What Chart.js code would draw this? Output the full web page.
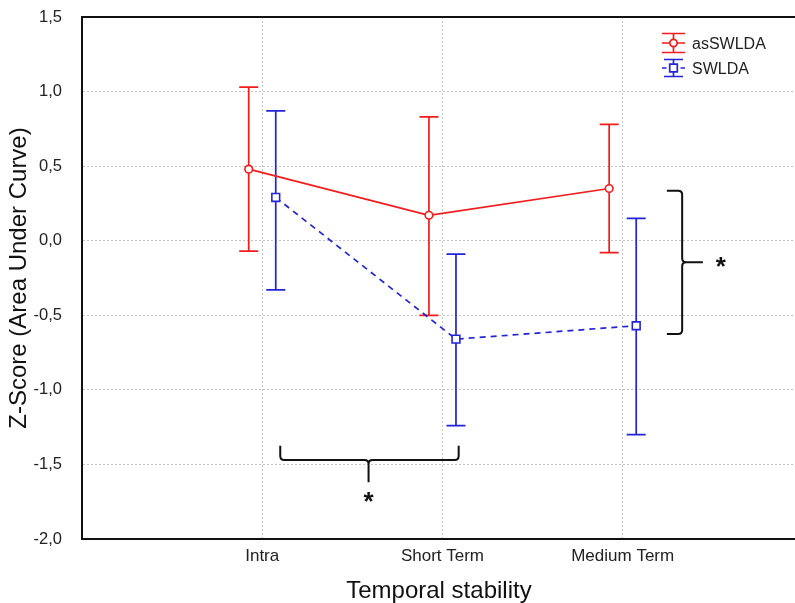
<!DOCTYPE html>
<html><head><meta charset="utf-8">
<script src="https://cdn.jsdelivr.net/npm/chart.js@4"></script>
<style>html,body{margin:0;padding:0;background:#fff;overflow:hidden}#wrap{width:795px;height:603px;position:relative;overflow:hidden}</style>
</head><body><div id="wrap"><canvas id="c" width="803" height="603"></canvas></div>
<script>
// ---- data ----
const categories = ['Intra', 'Short Term', 'Medium Term'];
const seriesNames = ['asSWLDA', 'SWLDA'];
const asMean = [0.48, 0.17, 0.35];
const asLow  = [-0.07, -0.50, -0.08];
const asHigh = [1.03, 0.83, 0.78];
const swMean = [0.29, -0.66, -0.57];
const swLow  = [-0.33, -1.24, -1.30];
const swHigh = [0.87, -0.09, 0.15];
const yTicks = [-2.0, -1.5, -1.0, -0.5, 0.0, 0.5, 1.0, 1.5];

// ---- styling / layout ----
const RED = '#f21c1c', BLUE = '#2323d8';
const FONT = "'Liberation Sans', Arial, sans-serif";
const OFF = 0.075; // horizontal dodge of the two series around each category
const build = (m, lo, hi, d) => m.map((v, i) => ({x: i + 1 + d, y: v, lo: lo[i], hi: hi[i]}));
const noPad = s => { s.paddingTop = 0; s.paddingBottom = 0; s.paddingLeft = 0; s.paddingRight = 0; };

const errorBars = {
  id: 'errorBars',
  beforeDatasetsDraw(chart) {
    const {ctx, scales: {x, y}} = chart;
    chart.data.datasets.forEach(ds => {
      ctx.save();
      ctx.strokeStyle = ds.borderColor; ctx.lineWidth = 1.7; ctx.setLineDash([]);
      ds.data.forEach(p => {
        const px = x.getPixelForValue(p.x), pl = y.getPixelForValue(p.lo), ph = y.getPixelForValue(p.hi);
        ctx.beginPath();
        ctx.moveTo(px, pl); ctx.lineTo(px, ph);
        ctx.moveTo(px - 9.5, pl); ctx.lineTo(px + 9.5, pl);
        ctx.moveTo(px - 9.5, ph); ctx.lineTo(px + 9.5, ph);
        ctx.stroke();
      });
      ctx.restore();
    });
  }
};

function star(ctx, cx, cy) {
  ctx.save();
  ctx.font = "bold 26px " + FONT; ctx.fillStyle = '#111';
  ctx.textAlign = 'center'; ctx.textBaseline = 'alphabetic';
  const m = ctx.measureText('*');
  const a = m.actualBoundingBoxAscent, d = m.actualBoundingBoxDescent;
  ctx.fillText('*', cx, cy + (a - d) / 2);
  ctx.restore();
}

const extras = {
  id: 'extras',
  afterDatasetsDraw(chart) {
    const {ctx, chartArea: ca, scales: {x, y}} = chart;
    ctx.save();
    // top frame line
    ctx.strokeStyle = '#111'; ctx.lineWidth = 2;
    ctx.beginPath(); ctx.moveTo(ca.left - 1, ca.top); ctx.lineTo(ca.right, ca.top); ctx.stroke();

    // horizontal bracket (Intra vs Short Term, SWLDA)
    const X = v => x.getPixelForValue(v), Y = v => y.getPixelForValue(v);
    ctx.lineWidth = 2; ctx.strokeStyle = '#111'; ctx.lineJoin = 'round';
    let xl = X(1.10), xr = X(2.09), xm = X(1.59), yb = Y(-1.47), yt = Y(-1.375), yd = Y(-1.62), r = 4;
    ctx.beginPath();
    ctx.moveTo(xl, yt); ctx.lineTo(xl, yb - r); ctx.quadraticCurveTo(xl, yb, xl + r, yb);
    ctx.lineTo(xm - r, yb); ctx.quadraticCurveTo(xm, yb, xm, yb + r); ctx.lineTo(xm, yd);
    ctx.moveTo(xm, yb + r); ctx.quadraticCurveTo(xm, yb, xm + r, yb);
    ctx.lineTo(xr - r, yb); ctx.quadraticCurveTo(xr, yb, xr, yb - r); ctx.lineTo(xr, yt);
    ctx.stroke();
    star(ctx, xm, Y(-1.72));

    // vertical bracket (Medium Term, asSWLDA vs SWLDA)
    let bx0 = X(3.245), bx = X(3.33), btip = X(3.445), y0 = Y(0.335), y1 = Y(-0.625), ym = Y(-0.145);
    ctx.beginPath();
    ctx.moveTo(bx0, y0); ctx.lineTo(bx - r, y0); ctx.quadraticCurveTo(bx, y0, bx, y0 + r);
    ctx.lineTo(bx, ym - r); ctx.quadraticCurveTo(bx, ym, bx + r, ym); ctx.lineTo(btip, ym);
    ctx.moveTo(bx + r, ym); ctx.quadraticCurveTo(bx, ym, bx, ym + r);
    ctx.lineTo(bx, y1 - r); ctx.quadraticCurveTo(bx, y1, bx - r, y1); ctx.lineTo(bx0, y1);
    ctx.stroke();
    star(ctx, X(3.545), ym);
    ctx.restore();
  },
  afterDraw(chart) {
    // legend
    const {ctx} = chart;
    const items = chart.data.datasets;
    ctx.save();
    items.forEach((ds, i) => {
      const cx = 673.5, cy = i === 0 ? 43 : 68, h = i === 0 ? 9.5 : 8.5;
      ctx.strokeStyle = ds.borderColor; ctx.lineWidth = 1.7; ctx.setLineDash([]);
      ctx.beginPath();
      ctx.moveTo(cx, cy - h); ctx.lineTo(cx, cy + h);
      const cw = i === 0 ? 11.5 : 9.5;
      ctx.moveTo(cx - cw, cy - h); ctx.lineTo(cx + cw, cy - h);
      ctx.moveTo(cx - cw, cy + h); ctx.lineTo(cx + cw, cy + h);
      if (i === 0) { ctx.moveTo(cx - 11.5, cy); ctx.lineTo(cx + 11.5, cy); }
      else { ctx.moveTo(cx - 11.5, cy); ctx.lineTo(cx - 7, cy); ctx.moveTo(cx + 7, cy); ctx.lineTo(cx + 11.5, cy); }
      ctx.stroke();
      ctx.fillStyle = '#fff'; ctx.beginPath();
      if (i === 0) ctx.arc(cx, cy, 3.6, 0, Math.PI * 2); else ctx.rect(cx - 3.8, cy - 3.8, 7.6, 7.6);
      ctx.fill(); ctx.stroke();
      ctx.fillStyle = '#222'; ctx.font = '16px ' + FONT; ctx.textBaseline = 'middle'; ctx.textAlign = 'left';
      ctx.fillText(ds.label, 692, cy + 2);
    });
    ctx.restore();
  }
};

new Chart(document.getElementById('c'), {
  type: 'line',
  data: {
    datasets: [
      {label: seriesNames[0], data: build(asMean, asLow, asHigh, -OFF), borderColor: RED, backgroundColor: RED,
       borderWidth: 1.7, pointStyle: 'circle', pointRadius: 3.8, pointBorderWidth: 1.6,
       pointBackgroundColor: '#fff', pointBorderColor: RED, tension: 0, fill: false},
      {label: seriesNames[1], data: build(swMean, swLow, swHigh, OFF), borderColor: BLUE, backgroundColor: BLUE,
       borderWidth: 1.7, borderDash: [6, 5], pointStyle: 'rect', pointRadius: 5.5, pointBorderWidth: 1.6,
       pointBackgroundColor: '#fff', pointBorderColor: BLUE, tension: 0, fill: false}
    ]
  },
  options: {
    responsive: false, animation: false, events: [],
    layout: {padding: {top: 17, right: 0, left: 0, bottom: 0}},
    plugins: {legend: {display: false}, tooltip: {enabled: false}},
    scales: {
      x: {
        type: 'linear', min: 0, max: (795 - 82) / 180,
        afterBuildTicks: s => { s.ticks = categories.map((c, i) => ({value: i + 1})); },
        afterFit: s => { s.height = 64; noPad(s); },
        ticks: {callback: v => categories[Math.round(v) - 1] || '', color: '#222', font: {size: 17, family: FONT}, padding: 7, autoSkip: false, maxRotation: 0},
        grid: {color: '#c4c4c4', lineWidth: 1, drawTicks: false},
        border: {display: true, color: '#111', width: 2, dash: [2, 2]},
        title: {display: true, text: 'Temporal stability', color: '#111', font: {size: 24, family: FONT, lineHeight: 1}, padding: {top: 0, bottom: 0}}
      },
      y: {
        min: -2, max: 1.5,
        afterBuildTicks: s => { s.ticks = yTicks.map(v => ({value: v})); },
        afterFit: s => { s.width = 82; noPad(s); },
        ticks: {callback: v => v.toFixed(1).replace('.', ','), color: '#222', font: {size: 16.5, family: FONT}, padding: 20},
        grid: {color: c => (c.tick && (c.tick.value === -2 || c.tick.value === 1.5)) ? 'rgba(0,0,0,0)' : '#c4c4c4', lineWidth: 1, drawTicks: false},
        border: {display: true, color: '#111', width: 2, dash: [2, 2]},
        title: {display: true, text: 'Z-Score (Area Under Curve)', color: '#111', font: {size: 24, family: FONT, lineHeight: 1}, padding: {top: 7, bottom: 0}}
      }
    }
  },
  plugins: [errorBars, extras]
});
</script></body></html>
